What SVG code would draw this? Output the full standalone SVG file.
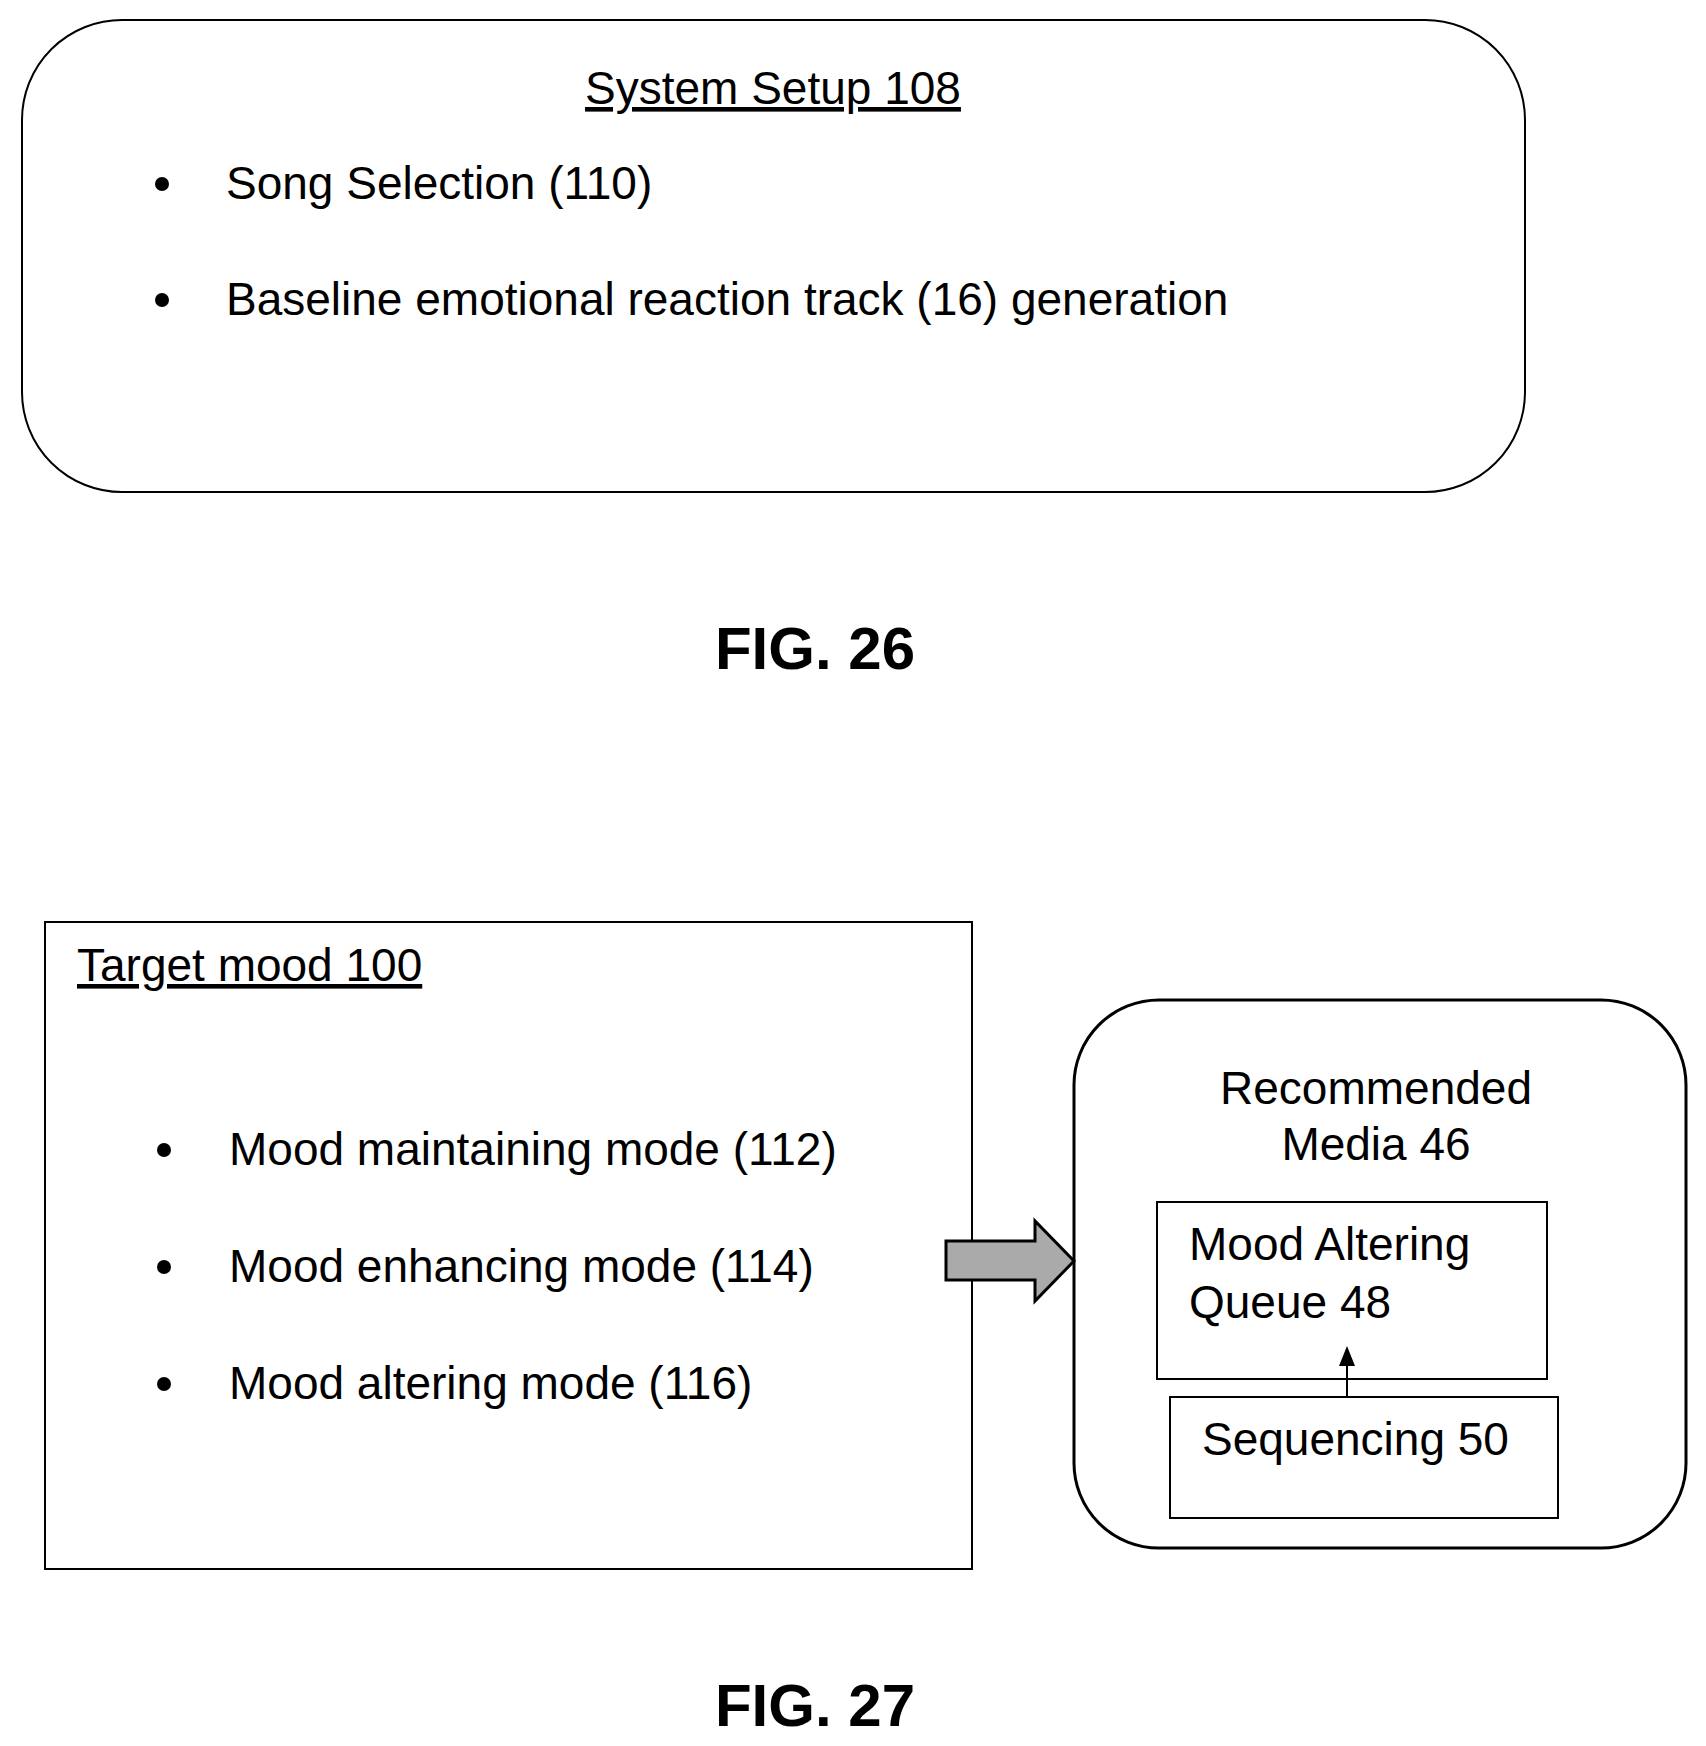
<svg xmlns="http://www.w3.org/2000/svg" width="1706" height="1746" viewBox="0 0 1706 1746">
<style>
text{font-family:"Liberation Sans",Arial,sans-serif;fill:#000}
.t{font-size:46px}
.u{text-decoration:underline}
.fig{font-size:60px;font-weight:bold;text-anchor:middle}
.box{fill:none;stroke:#000;stroke-width:2}
</style>
<g id="setup">
<rect class="box" x="22" y="20" width="1503" height="472" rx="100"/>
<text class="t u" x="773" y="104" text-anchor="middle">System Setup 108</text>
<circle cx="162" cy="184" r="7"/><text class="t" x="226" y="199">Song Selection (110)</text>
<circle cx="162" cy="300" r="7"/><text class="t" x="226" y="315">Baseline emotional reaction track (16) generation</text>
</g>
<text class="fig" x="815" y="669">FIG. 26</text>
<g id="target">
<rect class="box" x="45" y="922" width="927" height="647"/>
<text class="t u" x="77" y="981">Target mood 100</text>
<circle cx="164" cy="1150" r="7"/><text class="t" x="229" y="1165">Mood maintaining mode (112)</text>
<circle cx="164" cy="1267" r="7"/><text class="t" x="229" y="1282">Mood enhancing mode (114)</text>
<circle cx="164" cy="1384" r="7"/><text class="t" x="229" y="1399">Mood altering mode (116)</text>
</g>
<g id="media">
<rect x="1074" y="1000" width="612" height="548" rx="85" fill="none" stroke="#000" stroke-width="3"/>
<text class="t" x="1376" y="1104" text-anchor="middle">Recommended</text>
<text class="t" x="1376" y="1160" text-anchor="middle">Media 46</text>
</g>
<g id="queue">
<rect class="box" x="1157" y="1202" width="390" height="177"/>
<text class="t" x="1189" y="1260">Mood Altering</text>
<text class="t" x="1189" y="1318">Queue 48</text>
</g>
<g id="seq">
<rect class="box" x="1170" y="1397" width="388" height="121"/>
<text class="t" x="1202" y="1455">Sequencing 50</text>
</g>
<g id="connectors">
<path d="M946,1241 H1035 V1221 L1074,1261 L1035,1301 V1280 H946 Z" fill="#aaa" stroke="#000" stroke-width="3"/>
<line x1="1347" y1="1397" x2="1347" y2="1360" stroke="#000" stroke-width="2"/>
<path d="M1339,1366 L1347,1346 L1355,1366 Z" fill="#000"/>
</g>
<text class="fig" x="815" y="1726">FIG. 27</text>
</svg>
